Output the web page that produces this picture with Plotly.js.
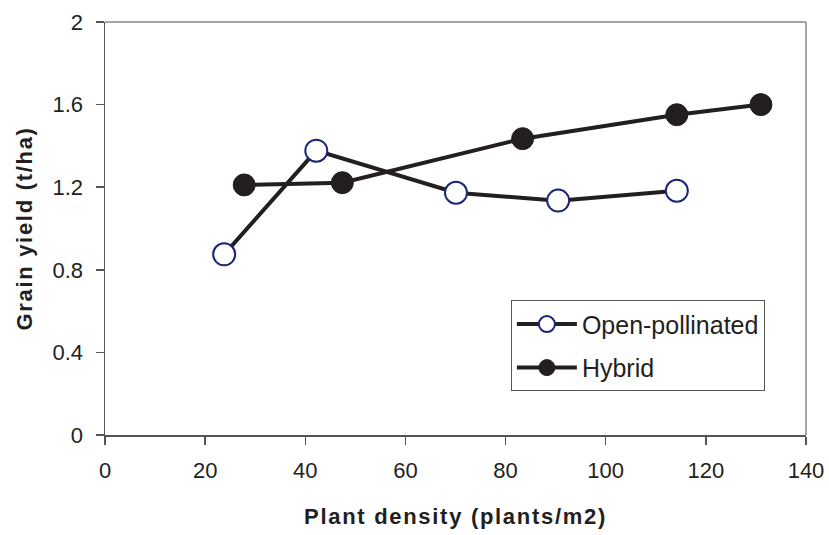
<!DOCTYPE html>
<html>
<head>
<meta charset="utf-8">
<script src="https://cdn.plot.ly/plotly-3.0.1.min.js"></script>
<style>
html,body{margin:0;padding:0;background:#fff;}
#chart{width:829px;height:535px;}
#chart text.xtitle, #chart text.ytitle{letter-spacing:1.7px;}
</style>
</head>
<body>
<div id="chart"></div>
<script>
const opDensity = [23.8, 42.2, 70.1, 90.5, 114.2];
const opYield = [0.875, 1.377, 1.173, 1.135, 1.183];
const hyDensity = [27.8, 47.4, 83.4, 114.2, 131.0];
const hyYield = [1.211, 1.222, 1.435, 1.551, 1.600];
const xTicks = [0, 20, 40, 60, 80, 100, 120, 140];
const yTicks = [0, 0.4, 0.8, 1.2, 1.6, 2];
const yTickText = ['0', '0.4', '0.8', '1.2', '1.6', '2'];

const font = 'Liberation Sans, Arial, sans-serif';
const traces = [
  {
    x: opDensity, y: opYield, name: 'Open-pollinated', mode: 'lines+markers', type: 'scatter',
    legendgroup: 'op',
    line: {color: '#231f20', width: 4},
    marker: {symbol: 'circle', size: 22, color: '#ffffff', line: {color: '#1c2475', width: 2}}
  },
  {
    x: hyDensity, y: hyYield, name: 'Hybrid', mode: 'lines+markers', type: 'scatter',
    legendgroup: 'hy',
    line: {color: '#231f20', width: 4},
    marker: {symbol: 'circle', size: 22, color: '#231f20', line: {color: '#231f20', width: 1}}
  }
];
const layout = {
  width: 829, height: 535,
  margin: {l: 105, r: 23, t: 22, b: 100},
  paper_bgcolor: '#ffffff', plot_bgcolor: '#ffffff',
  font: {family: font, size: 22, color: '#231f20'},
  showlegend: true,
  legend: {
    x: 0.579, y: 0.326, xanchor: 'left', yanchor: 'top',
    bordercolor: '#555555', borderwidth: 1, bgcolor: '#ffffff',
    font: {family: font, size: 25, color: '#231f20'},
    itemwidth: 60, tracegroupgap: 8, traceorder: 'grouped'
  },
  xaxis: {
    range: [0, 140], tickvals: xTicks, ticktext: xTicks.map(String),
    ticks: 'outside', ticklen: 8, tickcolor: '#555555', tickwidth: 1.5,
    ticklabelstandoff: 7,
    showline: true, linecolor: '#555555', linewidth: 1.5, mirror: false,
    showgrid: false, zeroline: false,
    tickfont: {family: font, size: 22, color: '#231f20'},
    title: {text: 'Plant density (plants/m2)', font: {family: font, size: 22, color: '#231f20', weight: 'bold'}, standoff: 26}
  },
  yaxis: {
    range: [0, 2], tickvals: yTicks, ticktext: yTickText,
    ticks: 'outside', ticklen: 8, tickcolor: '#555555', tickwidth: 1.5,
    ticklabelstandoff: 8,
    showline: true, linecolor: '#555555', linewidth: 1.5,
    showgrid: false, zeroline: false,
    tickfont: {family: font, size: 22, color: '#231f20'},
    title: {text: 'Grain yield (t/ha)', font: {family: font, size: 22, color: '#231f20', weight: 'bold'}, standoff: 14}
  },
  shapes: [
    {type: 'line', xref: 'paper', yref: 'paper', x0: 0, x1: 1, y0: 1, y1: 1, line: {color: '#888888', width: 1.5}},
    {type: 'line', xref: 'paper', yref: 'paper', x0: 1, x1: 1, y0: 0, y1: 1, line: {color: '#888888', width: 1.5}}
  ]
};
Plotly.newPlot('chart', traces, layout, {displayModeBar: false, staticPlot: true});
</script>
</body>
</html>
